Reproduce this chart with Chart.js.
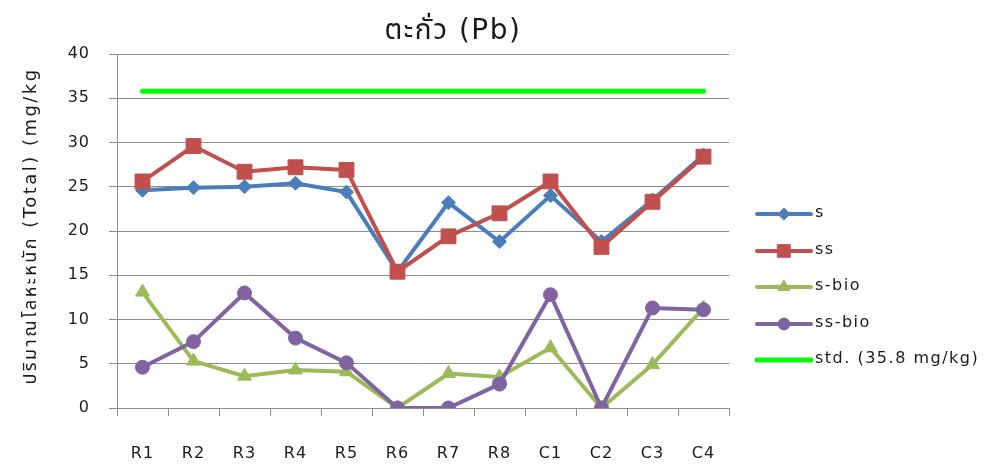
<!DOCTYPE html>
<html>
<head>
<meta charset="utf-8">
<script src="https://cdn.jsdelivr.net/npm/chart.js@4/dist/chart.umd.min.js"></script>
<style>
  html, body { margin: 0; padding: 0; background: #fff; }
  #wrap { position: relative; width: 991px; height: 468px; }
</style>
</head>
<body>
<div id="wrap"><canvas id="c"></canvas></div>
<script>
  const FONT = "'DejaVu Sans', 'Noto Sans Thai', 'Noto Sans', sans-serif";

  const categories = ['R1', 'R2', 'R3', 'R4', 'R5', 'R6', 'R7', 'R8', 'C1', 'C2', 'C3', 'C4'];
  const sValues = [24.6, 24.9, 25.0, 25.4, 24.4, 15.4, 23.2, 18.8, 24.0, 18.8, 23.5, 28.6];
  const ssValues = [25.6, 29.6, 26.7, 27.2, 26.9, 15.4, 19.4, 22.0, 25.6, 18.2, 23.3, 28.4];
  const sBioValues = [13.1, 5.3, 3.6, 4.3, 4.1, 0, 3.9, 3.5, 6.8, 0, 4.9, 11.3];
  const ssBioValues = [4.6, 7.5, 13.0, 7.9, 5.1, 0, 0, 2.7, 12.8, 0, 11.3, 11.1];
  const stdLimit = 35.8;
  const stdValues = categories.map(() => stdLimit);
  const yTicks = [0, 5, 10, 15, 20, 25, 30, 35, 40];

  const TITLE = 'ตะกั่ว (Pb)';
  const Y_TITLE = 'ปริมาณโลหะหนัก (Total) (mg/kg';

  const BLUE = '#4A7EBB';
  const RED = '#C0504D';
  const GREEN = '#9BBB59';
  const PURPLE = '#8064A2';
  const LIME = '#00FF00';
  const GRID = '#8C8C8C';
  const TEXT = '#1a1a1a';

  function series(label, data, color, pointStyle, radius, order) {
    return {
      label,
      data,
      borderColor: color,
      backgroundColor: color,
      borderWidth: 4,
      pointStyle,
      pointRadius: radius,
      pointHoverRadius: radius,
      pointBorderWidth: 1,
      pointBorderColor: color,
      pointBackgroundColor: color,
      tension: 0,
      order,
      legendRadius: radius * 0.85,
    };
  }

  const datasets = [
    series('s', sValues, BLUE, 'rectRot', 7, 4),
    series('ss', ssValues, RED, 'rect', 10.5, 3),
    series('s-bio', sBioValues, GREEN, 'triangle', 8, 2),
    series('ss-bio', ssBioValues, PURPLE, 'circle', 7, 1),
    {
      label: 'std. (35.8 mg/kg)',
      data: stdValues,
      borderColor: LIME,
      backgroundColor: LIME,
      borderWidth: 5,
      borderCapStyle: 'round',
      pointRadius: 0,
      pointHoverRadius: 0,
      order: 5,
      legendRadius: 0,
    },
  ];

  // spread a string out to a given width with letter spacing
  function spacedText(ctx, text, x, y, width) {
    ctx.letterSpacing = '0px';
    const w = ctx.measureText(text).width;
    const n = Array.from(text).length;
    ctx.letterSpacing = Math.max(0, (width - w) / n).toFixed(2) + 'px';
    ctx.fillText(text, x, y);
  }

  // wide letter spacing for all canvas text, then title, axis title and side legend
  const decorations = {
    id: 'decorations',
    beforeDraw(chart) {
      chart.ctx.letterSpacing = '1px';
    },
    afterDraw(chart) {
      const ctx = chart.ctx;
      ctx.save();
      ctx.fillStyle = TEXT;
      ctx.font = '28px ' + FONT;
      ctx.textAlign = 'center';
      ctx.textBaseline = 'middle';
      spacedText(ctx, TITLE, 453, 32, 140);

      ctx.save();
      ctx.translate(31, 226);
      ctx.rotate(-Math.PI / 2);
      ctx.font = '18px ' + FONT;
      spacedText(ctx, Y_TITLE, 0, 0, 322);
      ctx.restore();

      const rowsY = [214, 251, 287, 324, 360];
      ctx.letterSpacing = '1.5px';
      chart.data.datasets.forEach((ds, i) => {
        const y = rowsY[i];
        ctx.strokeStyle = ds.borderColor;
        ctx.lineWidth = ds.borderWidth;
        ctx.lineCap = 'round';
        ctx.beginPath();
        ctx.moveTo(757, y);
        ctx.lineTo(811, y);
        ctx.stroke();
        if (ds.legendRadius) {
          ctx.fillStyle = ds.pointBackgroundColor;
          ctx.strokeStyle = ds.pointBorderColor;
          ctx.lineWidth = 1;
          Chart.helpers.drawPoint(ctx, { pointStyle: ds.pointStyle, radius: ds.legendRadius, rotation: 0, borderWidth: 1 }, 784, y);
        }
        ctx.fillStyle = TEXT;
        ctx.font = '16px ' + FONT;
        ctx.textAlign = 'left';
        ctx.fillText(ds.label, 815, y - 1);
      });
      ctx.restore();
    },
  };

  new Chart(document.getElementById('c'), {
    type: 'line',
    data: { labels: categories, datasets },
    plugins: [decorations],
    options: {
      responsive: true,
      maintainAspectRatio: false,
      animation: false,
      layout: { padding: { top: 54, right: 262, bottom: 0, left: 0 } },
      plugins: {
        legend: { display: false },
        title: { display: false },
        tooltip: { enabled: false },
      },
      scales: {
        x: {
          offset: true,
          grid: { offset: true, drawOnChartArea: false, tickLength: 8, color: GRID, lineWidth: 1 },
          border: { color: GRID },
          ticks: { color: TEXT, font: { family: FONT, size: 16 }, padding: 28, maxRotation: 0 },
          afterFit: (scale) => { scale.height = 60; },
        },
        y: {
          min: 0,
          max: 40,
          afterBuildTicks: (scale) => { scale.ticks = yTicks.map((v) => ({ value: v })); },
          grid: { color: GRID, tickLength: 8, lineWidth: 1 },
          border: { color: GRID },
          ticks: { color: TEXT, font: { family: FONT, size: 16 }, padding: 19 },
          afterFit: (scale) => { scale.width = 117; },
        },
      },
    },
  });
</script>
</body>
</html>
